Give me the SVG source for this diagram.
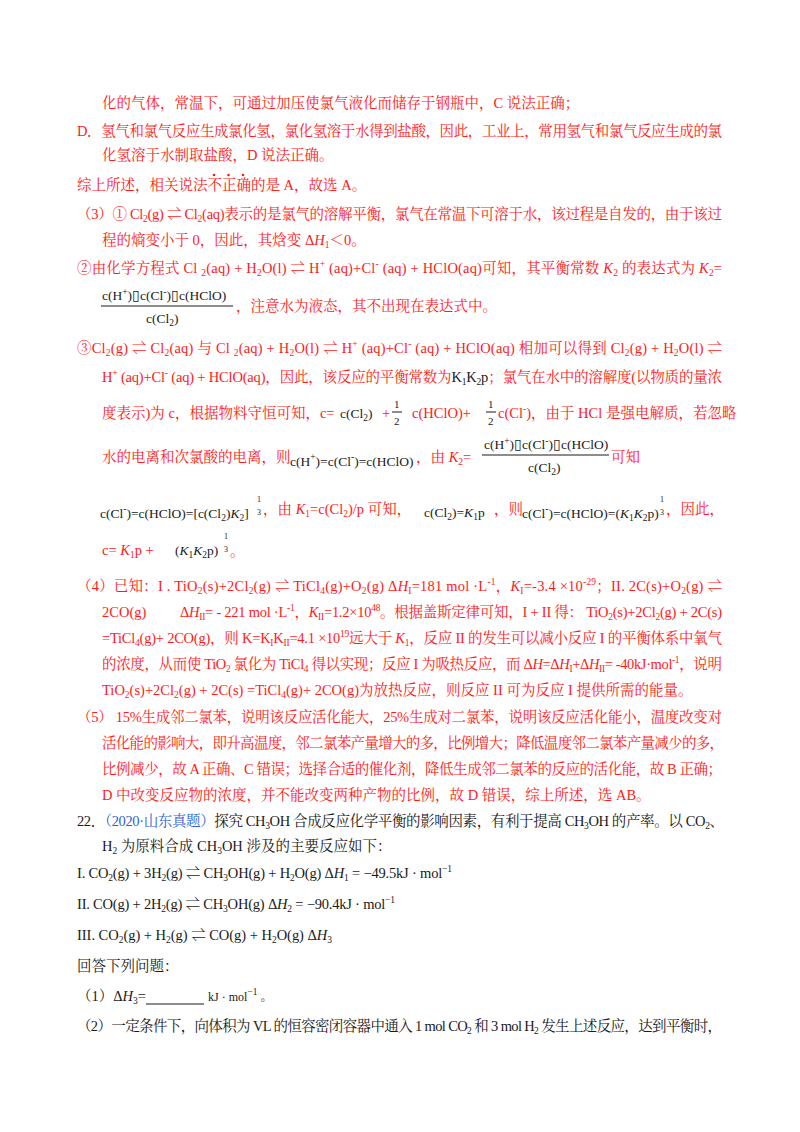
<svg xmlns="http://www.w3.org/2000/svg" width="800" height="1132" viewBox="0 0 800 1132">
<style>
text{font-family:"Liberation Serif","Noto Serif CJK SC","Noto Sans CJK SC",serif;font-size:14.5px}
.r{fill:#ff1a1a}
.k{fill:#1a1a1a}
.b{fill:#2f5fd6}
.s{font-size:9.5px}
.i{font-style:italic}
.m{font-size:13.5px}
.t{font-size:8px}
.h{font-size:11px}
.u{font-size:12px}
</style>
<rect width="800" height="1132" fill="#fff"/>
<g id="text-red">
<text class="r" x="102" y="108">化的气体，常温下，可通过加压使氯气液化而储存于钢瓶中，C 说法正确；</text>
<text class="r" x="77" y="136" textLength="645" lengthAdjust="spacing">D．氢气和氯气反应生成氯化氢，氯化氢溶于水得到盐酸，因此，工业上，常用氢气和氯气反应生成的氯</text>
<text class="r" x="102" y="160">化氢溶于水制取盐酸，D 说法正确。</text>
<text class="r" x="77" y="190">综上所述，相关说法不正确的是 A，故选 A。</text>
<g class="r"><circle cx="214" cy="175" r="1.3"/><circle cx="228.5" cy="175" r="1.3"/><circle cx="243" cy="175" r="1.3"/></g>
<text class="r" x="77" y="219" textLength="645" lengthAdjust="spacing">（3）① Cl<tspan class="s" dy="3">2</tspan><tspan dy="-3">(g) ⇌ Cl</tspan><tspan class="s" dy="3">2</tspan><tspan dy="-3">(aq)表示的是氯气的溶解平衡，氯气在常温下可溶于水，该过程是自发的，由于该过</tspan></text>
<text class="r" x="102" y="245">程的熵变小于 0，因此，其焓变 Δ<tspan class="i">H</tspan><tspan class="s" dy="3">1</tspan><tspan dy="-3">＜0。</tspan></text>
<text class="r" x="77" y="273" textLength="645" lengthAdjust="spacing">②由化学方程式 Cl <tspan class="s" dy="3">2</tspan><tspan dy="-3">(aq) + H</tspan><tspan class="s" dy="3">2</tspan><tspan dy="-3">O(l) ⇌ H</tspan><tspan class="s" dy="-6">+</tspan><tspan dy="6"> (aq)+Cl</tspan><tspan class="s" dy="-6">-</tspan><tspan dy="6"> (aq) + HClO(aq)可知，其平衡常数 </tspan><tspan class="i">K</tspan><tspan class="s" dy="3">2</tspan><tspan dy="-3"> 的表达式为 </tspan><tspan class="i">K</tspan><tspan class="s" dy="3">2</tspan><tspan dy="-3">=</tspan></text>
<text class="k m" x="102" y="300">c(H<tspan class="s" dy="-5">+</tspan><tspan dy="5">)▯c(Cl</tspan><tspan class="s" dy="-5">-</tspan><tspan dy="5">)▯c(HClO)</tspan></text>
<line x1="101" y1="306" x2="233" y2="306" stroke="#1a1a1a" stroke-width="1"/>
<text class="k m" x="146" y="323">c(Cl<tspan class="s" dy="3">2</tspan><tspan dy="-3">)</tspan></text>
<text class="r" x="236" y="311">，注意水为液态，其不出现在表达式中。</text>
<text class="r" x="77" y="353" textLength="645" lengthAdjust="spacing">③Cl<tspan class="s" dy="3">2</tspan><tspan dy="-3">(g) ⇌ Cl</tspan><tspan class="s" dy="3">2</tspan><tspan dy="-3">(aq) 与 Cl </tspan><tspan class="s" dy="3">2</tspan><tspan dy="-3">(aq) + H</tspan><tspan class="s" dy="3">2</tspan><tspan dy="-3">O(l) ⇌ H</tspan><tspan class="s" dy="-6">+</tspan><tspan dy="6"> (aq)+Cl</tspan><tspan class="s" dy="-6">-</tspan><tspan dy="6"> (aq) + HClO(aq) 相加可以得到 Cl</tspan><tspan class="s" dy="3">2</tspan><tspan dy="-3">(g) + H</tspan><tspan class="s" dy="3">2</tspan><tspan dy="-3">O(l) ⇌</tspan></text>
<text class="r" x="102" y="382" textLength="620" lengthAdjust="spacing">H<tspan class="s" dy="-6">+</tspan><tspan dy="6"> (aq)+Cl</tspan><tspan class="s" dy="-6">-</tspan><tspan dy="6"> (aq) + HClO(aq)，因此，该反应的平衡常数为</tspan><tspan class="k">K<tspan class="s" dy="3">1</tspan><tspan dy="-3">K</tspan><tspan class="s" dy="3">2</tspan><tspan dy="-3">p</tspan></tspan>；氯气在水中的溶解度(以物质的量浓</text>
<text class="r" x="102" y="418">度表示)为 c，根据物料守恒可知，c=</text>
<text class="k m" x="340" y="418">c(Cl<tspan class="s" dy="3">2</tspan><tspan dy="-3">)</tspan></text>
<text class="r" x="382" y="418">+</text>
<text class="k h" x="394" y="408">1</text><line x1="392" y1="412" x2="402" y2="412" stroke="#1a1a1a"/><text class="k h" x="394" y="425">2</text>
<text class="r" x="412" y="418">c(HClO)+</text>
<text class="k h" x="488" y="408">1</text><line x1="486" y1="412" x2="496" y2="412" stroke="#1a1a1a"/><text class="k h" x="488" y="425">2</text>
<text class="r" x="498" y="418">c(Cl<tspan class="s" dy="-6">-</tspan><tspan dy="6">)，由于 HCl 是强电解质，若忽略</tspan></text>
<text class="r" x="102" y="462">水的电离和次氯酸的电离，则</text>
<text class="k m" x="290" y="466">c(H<tspan class="s" dy="-6">+</tspan><tspan dy="6">)=c(Cl</tspan><tspan class="s" dy="-6">-</tspan><tspan dy="6">)=c(HClO)</tspan></text>
<text class="r" x="416" y="462">，由 <tspan class="i">K</tspan><tspan class="s" dy="3">2</tspan><tspan dy="-3">=</tspan></text>
<text class="k m" x="484" y="449">c(H<tspan class="s" dy="-5">+</tspan><tspan dy="5">)▯c(Cl</tspan><tspan class="s" dy="-5">-</tspan><tspan dy="5">)▯c(HClO)</tspan></text>
<line x1="482" y1="455" x2="609" y2="455" stroke="#1a1a1a"/>
<text class="k m" x="528" y="472">c(Cl<tspan class="s" dy="3">2</tspan><tspan dy="-3">)</tspan></text>
<text class="r" x="611" y="462">可知</text>
<text class="k m" x="100" y="518">c(Cl<tspan class="s" dy="-6">-</tspan><tspan dy="6">)=c(HClO)=[c(Cl</tspan><tspan class="s" dy="3">2</tspan><tspan dy="-3">)</tspan><tspan class="i">K</tspan><tspan class="s" dy="3">2</tspan><tspan dy="-3">]</tspan></text>
<text class="k t" x="257" y="502">1</text><text class="k t" x="257" y="515">3</text>
<text class="r" x="263" y="514">，由 <tspan class="i">K</tspan><tspan class="s" dy="3">1</tspan><tspan dy="-3">=c(Cl</tspan><tspan class="s" dy="3">2</tspan><tspan dy="-3">)/p 可知，</tspan></text>
<text class="k m" x="424" y="517">c(Cl<tspan class="s" dy="3">2</tspan><tspan dy="-3">)=</tspan><tspan class="i">K</tspan><tspan class="s" dy="3">1</tspan><tspan dy="-3">p</tspan></text>
<text class="r" x="494" y="514">，则</text>
<text class="k m" x="522" y="518">c(Cl<tspan class="s" dy="-6">-</tspan><tspan dy="6">)=c(HClO)=(</tspan><tspan class="i">K</tspan><tspan class="s" dy="3">1</tspan><tspan class="i" dy="-3">K</tspan><tspan class="s" dy="3">2</tspan><tspan dy="-3">p)</tspan></text>
<text class="k t" x="660" y="502">1</text><text class="k t" x="660" y="515">3</text>
<text class="r" x="666" y="514">，因此，</text>
<text class="r" x="102" y="555">c= <tspan class="i">K</tspan><tspan class="s" dy="3">1</tspan><tspan dy="-3">p +</tspan></text>
<text class="k m" x="175" y="555">(<tspan class="i">K</tspan><tspan class="s" dy="3">1</tspan><tspan class="i" dy="-3">K</tspan><tspan class="s" dy="3">2</tspan><tspan dy="-3">p)</tspan></text>
<text class="k t" x="224" y="539">1</text><text class="k t" x="224" y="552">3</text>
<text class="r" x="230" y="556">。</text>
<text class="r" x="77" y="591" textLength="645" lengthAdjust="spacing">（4）已知：I . TiO<tspan class="s" dy="3">2</tspan><tspan dy="-3">(s)+2Cl</tspan><tspan class="s" dy="3">2</tspan><tspan dy="-3">(g) ⇌ TiCl</tspan><tspan class="s" dy="3">4</tspan><tspan dy="-3">(g)+O</tspan><tspan class="s" dy="3">2</tspan><tspan dy="-3">(g) Δ</tspan><tspan class="i">H</tspan><tspan class="s" dy="3">I</tspan><tspan dy="-3">=181 mol ·L</tspan><tspan class="s" dy="-6">-1</tspan><tspan dy="6">，</tspan><tspan class="i">K</tspan><tspan class="s" dy="3">I</tspan><tspan dy="-3">=-3.4 ×10</tspan><tspan class="s" dy="-6">-29</tspan><tspan dy="6">；II. 2C(s)+O</tspan><tspan class="s" dy="3">2</tspan><tspan dy="-3">(g) ⇌</tspan></text>
<text class="r" x="102" y="617">2CO(g)</text>
<text class="r" x="180" y="617" textLength="542" lengthAdjust="spacing">Δ<tspan class="i">H</tspan><tspan class="s" dy="3">II</tspan><tspan dy="-3">= - 221 mol ·L</tspan><tspan class="s" dy="-6">-1</tspan><tspan dy="6">，</tspan><tspan class="i">K</tspan><tspan class="s" dy="3">II</tspan><tspan dy="-3">=1.2×10</tspan><tspan class="s" dy="-6">48</tspan><tspan dy="6">。根据盖斯定律可知，I + II 得： TiO</tspan><tspan class="s" dy="3">2</tspan><tspan dy="-3">(s)+2Cl</tspan><tspan class="s" dy="3">2</tspan><tspan dy="-3">(g) + 2C(s)</tspan></text>
<text class="r" x="102" y="643" textLength="620" lengthAdjust="spacing">=TiCl<tspan class="s" dy="3">4</tspan><tspan dy="-3">(g)+ 2CO(g)，则 K=K</tspan><tspan class="s" dy="3">I</tspan><tspan dy="-3">K</tspan><tspan class="s" dy="3">II</tspan><tspan dy="-3">=4.1 ×10</tspan><tspan class="s" dy="-6">19</tspan><tspan dy="6">远大于 </tspan><tspan class="i">K</tspan><tspan class="s" dy="3">1</tspan><tspan dy="-3">，反应 II 的发生可以减小反应 I 的平衡体系中氧气</tspan></text>
<text class="r" x="102" y="669" textLength="620" lengthAdjust="spacing">的浓度，从而使 TiO<tspan class="s" dy="3">2</tspan><tspan dy="-3"> 氯化为 TiCl</tspan><tspan class="s" dy="3">4</tspan><tspan dy="-3"> 得以实现；反应 I 为吸热反应，而 Δ</tspan><tspan class="i">H</tspan>=Δ<tspan class="i">H</tspan><tspan class="s" dy="3">I</tspan><tspan dy="-3">+Δ</tspan><tspan class="i">H</tspan><tspan class="s" dy="3">II</tspan><tspan dy="-3">= -40kJ·mol</tspan><tspan class="s" dy="-6">-1</tspan><tspan dy="6">，说明</tspan></text>
<text class="r" x="102" y="695">TiO<tspan class="s" dy="3">2</tspan><tspan dy="-3">(s)+2Cl</tspan><tspan class="s" dy="3">2</tspan><tspan dy="-3">(g) + 2C(s) =TiCl</tspan><tspan class="s" dy="3">4</tspan><tspan dy="-3">(g)+ 2CO(g)为放热反应，则反应 II  可为反应 I 提供所需的能量。</tspan></text>
<text class="r" x="77" y="722" textLength="645" lengthAdjust="spacing">（5） 15%生成邻二氯苯，说明该反应活化能大，25%生成对二氯苯，说明该反应活化能小，温度改变对</text>
<text class="r" x="102" y="748" textLength="622" lengthAdjust="spacing">活化能的影响大，即升高温度，邻二氯苯产量增大的多，比例增大；降低温度邻二氯苯产量减少的多，</text>
<text class="r" x="102" y="774" textLength="620" lengthAdjust="spacing">比例减少，故 A 正确、C 错误；选择合适的催化剂，降低生成邻二氯苯的反应的活化能，故 B 正确；</text>
<text class="r" x="102" y="800">D 中改变反应物的浓度，并不能改变两种产物的比例，故 D 错误，综上所述，选 AB。</text>
</g>
<g id="text-black">
<text class="k" x="77" y="826" textLength="647" lengthAdjust="spacing">22．<tspan class="b">（2020·山东真题）</tspan>探究 CH<tspan class="s" dy="3">3</tspan><tspan dy="-3">OH 合成反应化学平衡的影响因素，有利于提高 CH</tspan><tspan class="s" dy="3">3</tspan><tspan dy="-3">OH 的产率。以 CO</tspan><tspan class="s" dy="3">2</tspan><tspan dy="-3">、</tspan></text>
<text class="k" x="102" y="851">H<tspan class="s" dy="3">2</tspan><tspan dy="-3"> 为原料合成 CH</tspan><tspan class="s" dy="3">3</tspan><tspan dy="-3">OH 涉及的主要反应如下：</tspan></text>
<text class="k" x="77" y="878" textLength="375" lengthAdjust="spacing">I.  CO<tspan class="s" dy="3">2</tspan><tspan dy="-3">(g) + 3H</tspan><tspan class="s" dy="3">2</tspan><tspan dy="-3">(g) ⇌  CH</tspan><tspan class="s" dy="3">3</tspan><tspan dy="-3">OH(g) + H</tspan><tspan class="s" dy="3">2</tspan><tspan dy="-3">O(g)    Δ</tspan><tspan class="i">H</tspan><tspan class="s" dy="3">1</tspan><tspan dy="-3"> = −49.5kJ · mol</tspan><tspan class="s" dy="-6">−1</tspan></text>
<text class="k" x="77" y="909" textLength="318" lengthAdjust="spacing">II.  CO(g) + 2H<tspan class="s" dy="3">2</tspan><tspan dy="-3">(g) ⇌ CH</tspan><tspan class="s" dy="3">3</tspan><tspan dy="-3">OH(g)    Δ</tspan><tspan class="i">H</tspan><tspan class="s" dy="3">2</tspan><tspan dy="-3"> = −90.4kJ · mol</tspan><tspan class="s" dy="-6">−1</tspan></text>
<text class="k" x="77" y="940" textLength="255" lengthAdjust="spacing">III.  CO<tspan class="s" dy="3">2</tspan><tspan dy="-3">(g) + H</tspan><tspan class="s" dy="3">2</tspan><tspan dy="-3">(g) ⇌  CO(g) + H</tspan><tspan class="s" dy="3">2</tspan><tspan dy="-3">O(g)    Δ</tspan><tspan class="i">H</tspan><tspan class="s" dy="3">3</tspan></text>
<text class="k" x="77" y="971">回答下列问题：</text>
<text class="k" x="77" y="1001">（1）Δ<tspan class="i">H</tspan><tspan class="s" dy="3">3</tspan><tspan dy="-3">=</tspan></text>
<line x1="146" y1="1004" x2="204" y2="1004" stroke="#1a1a1a"/>
<text class="k u" x="208" y="1001">kJ · mol<tspan class="s" dy="-6">−1</tspan><tspan dy="6"> 。</tspan></text>
<text class="k" x="77" y="1031" textLength="645" lengthAdjust="spacing">（2）一定条件下，向体积为 VL 的恒容密闭容器中通入 1 mol CO<tspan class="s" dy="3">2</tspan><tspan dy="-3"> 和 3 mol H</tspan><tspan class="s" dy="3">2</tspan><tspan dy="-3"> 发生上述反应，达到平衡时，</tspan></text>
</g>
</svg>
